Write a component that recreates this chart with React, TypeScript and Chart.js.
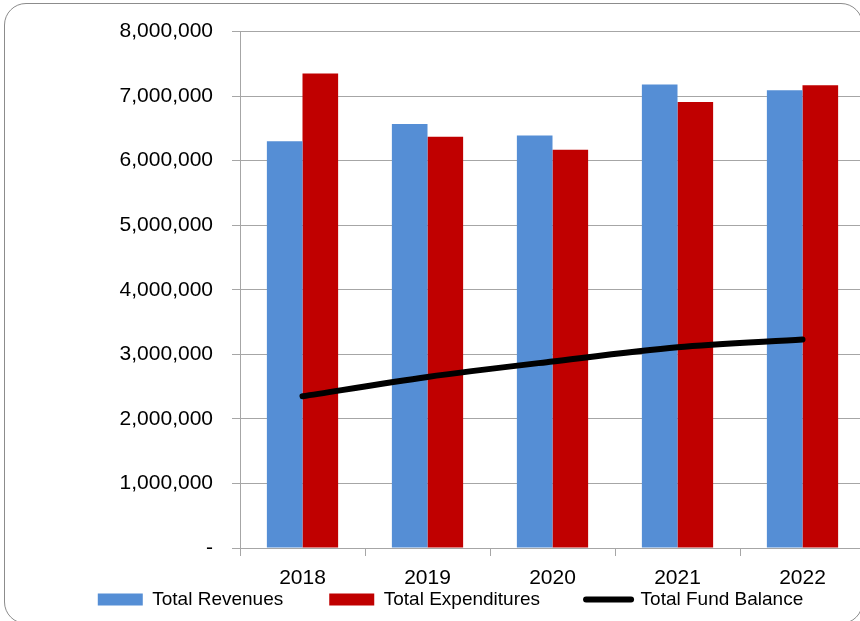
import React, { useEffect, useRef } from "react";
import { Chart, registerables } from "chart.js";

Chart.register(...registerables);

const years = ["2018", "2019", "2020", "2021", "2022"];
const revenues = [6300000, 6570000, 6390000, 7180000, 7090000];
const expenditures = [7350000, 6370000, 6170000, 6910000, 7170000];
const fundBalance = [2350000, 2650000, 2890000, 3110000, 3230000];
const seriesNames = ["Total Revenues", "Total Expenditures", "Total Fund Balance"];

const FONT = "'Liberation Sans', Arial, sans-serif";
const GRID = "#a6a6a6";
const X_AXIS_H = 42;
const LEG_PAD = 46;
const CANVAS_H = 30 + 518 + X_AXIS_H + (19 + LEG_PAD + 10);

const legendShift = {
  id: "legendShift",
  afterLayout(chart: any) {
    const lg = chart.legend;
    if (lg) {
      const s = X_AXIS_H + (LEG_PAD - 42);
      lg.top -= s;
      lg.bottom -= s;
    }
  },
};

export default function App() {
  const ref = useRef<HTMLCanvasElement>(null);

  useEffect(() => {
    document.body.style.margin = "0";
    document.body.style.overflow = "hidden";
    const canvas = ref.current;
    if (!canvas) return;
    const chart = new Chart(canvas, {
      type: "bar",
      plugins: [legendShift],
      data: {
        labels: years,
        datasets: [
          {
            type: "bar",
            label: seriesNames[0],
            data: revenues,
            backgroundColor: "#558ed5",
            borderWidth: 0,
            order: 1,
          },
          {
            type: "bar",
            label: seriesNames[1],
            data: expenditures,
            backgroundColor: "#c00000",
            borderWidth: 0,
            order: 1,
          },
          {
            type: "line",
            label: seriesNames[2],
            data: fundBalance,
            borderColor: "#000000",
            backgroundColor: "#000000",
            borderWidth: 6,
            borderCapStyle: "round",
            borderJoinStyle: "round",
            pointRadius: 0,
            pointHoverRadius: 0,
            tension: 0.3,
            order: 0,
          },
        ],
      },
      options: {
        responsive: false,
        animation: false,
        devicePixelRatio: 1,
        layout: { padding: { top: 30, left: 36, right: 5, bottom: 0 } },
        datasets: {
          bar: { categoryPercentage: 0.57, barPercentage: 1 },
        },
        scales: {
          x: {
            offset: true,
            grid: {
              offset: true,
              drawOnChartArea: false,
              drawTicks: true,
              tickLength: 8,
              color: GRID,
              lineWidth: 1,
            },
            border: { display: true, color: GRID, width: 1 },
            ticks: {
              padding: 10,
              color: "#000",
              font: { family: FONT, size: 21 },
              maxRotation: 0,
            },
            afterFit: (scale: any) => {
              scale.height = X_AXIS_H;
            },
          },
          y: {
            min: 0,
            max: 8000000,
            grid: {
              color: GRID,
              lineWidth: 1,
              drawTicks: true,
              tickLength: 8,
            },
            border: { display: true, color: GRID, width: 1 },
            ticks: {
              stepSize: 1000000,
              padding: 19,
              color: "#000",
              font: { family: FONT, size: 21 },
              callback: (v: any) =>
                Number(v) === 0 ? "-" : Number(v).toLocaleString("en-US"),
            },
            afterFit: (scale: any) => {
              scale.width = 204;
            },
          },
        },
        plugins: {
          title: { display: false },
          tooltip: { enabled: false },
          legend: {
            display: true,
            position: "bottom",
            labels: {
              usePointStyle: true,
              pointStyleWidth: 45,
              boxWidth: 45,
              boxHeight: 12,
              padding: LEG_PAD,
              color: "#000",
              font: { family: FONT, size: 19 },
              generateLabels: (ch: any) => {
                const base = (Chart.defaults.plugins.legend.labels as any).generateLabels(ch);
                return base
                  .map((l: any) => {
                    if (l.datasetIndex === 2) {
                      return {
                        ...l,
                        pointStyle: "line",
                        lineWidth: 6,
                        lineCap: "round",
                        strokeStyle: "#000",
                        fillStyle: "#000",
                      };
                    }
                    return { ...l, pointStyle: "rect", lineWidth: 0 };
                  })
                  .sort((a: any, b: any) => a.datasetIndex - b.datasetIndex);
              },
            },
          },
        },
      },
    });
    return () => chart.destroy();
  }, []);

  return (
    <div
      style={{
        position: "fixed",
        left: 0,
        top: 0,
        width: 860,
        height: 621,
        overflow: "hidden",
        background: "#fff",
      }}
    >
      <div
        style={{
          position: "absolute",
          left: 4,
          top: 3,
          width: 859,
          height: 621,
          border: "1px solid #8c8c8c",
          borderRadius: 22,
          boxSizing: "border-box",
        }}
      />
      <div style={{ position: "absolute", left: 0, top: 0, width: 870, height: CANVAS_H }}>
        <canvas
          ref={ref}
          width={870}
          height={CANVAS_H}
          style={{ width: 870, height: CANVAS_H, display: "block" }}
        />
      </div>
    </div>
  );
}
